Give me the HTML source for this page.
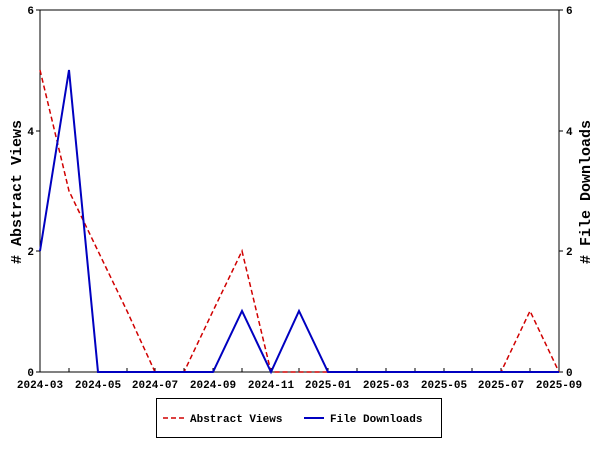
<!DOCTYPE html>
<html><head><style>body{margin:0;background:#fff}svg{display:block}text{font-family:"Liberation Mono",monospace;font-weight:bold;font-size:11px}</style></head><body>
<svg width="600" height="450" xmlns="http://www.w3.org/2000/svg">
<rect x="40" y="10" width="519" height="362" fill="none" stroke="#000" stroke-width="1"/>
<g stroke="#000">
<path d="M40 372v-4M69 372v-4M98 372v-4M127 372v-4M155 372v-4M184 372v-4M213 372v-4M242 372v-4M271 372v-4M299 372v-4M328 372v-4M357 372v-4M386 372v-4M415 372v-4M444 372v-4M472 372v-4M501 372v-4M530 372v-4M559 372v-4"/>
<path d="M36 372h4M36 251h4M36 131h4M36 10h4M559 372h4M559 251h4M559 131h4M559 10h4"/>
</g>
<g text-anchor="end"><text x="34" y="376">0</text><text x="34" y="255">2</text><text x="34" y="135">4</text><text x="34" y="14">6</text></g>
<g><text x="566" y="376">0</text><text x="566" y="255">2</text><text x="566" y="135">4</text><text x="566" y="14">6</text></g>
<g text-anchor="middle">
<text x="40" y="388">2024-03</text><text x="98" y="388">2024-05</text><text x="155" y="388">2024-07</text><text x="213" y="388">2024-09</text><text x="271" y="388">2024-11</text><text x="328" y="388">2025-01</text><text x="386" y="388">2025-03</text><text x="444" y="388">2025-05</text><text x="501" y="388">2025-07</text><text x="559" y="388">2025-09</text>
</g>
<text transform="translate(21,192) rotate(-90)" text-anchor="middle" style="font-size:15px">#&#160;Abstract&#160;Views</text>
<text transform="translate(590,192) rotate(-90)" text-anchor="middle" style="font-size:15px"># File Downloads</text>
<polyline fill="none" stroke="#d00000" stroke-width="1.5" stroke-dasharray="5,3" points="40,70 69,191 98,251 127,311 155,372 184,372 213,311 242,251 271,372 299,372 328,372 357,372 386,372 415,372 444,372 472,372 501,372 530,311 559,372"/>
<polyline fill="none" stroke="#0000c0" stroke-width="2" points="40,251 69,70 98,372 127,372 155,372 184,372 213,372 242,311 271,372 299,311 328,372 357,372 386,372 415,372 444,372 472,372 501,372 530,372 559,372"/>
<rect x="156.5" y="398.5" width="285" height="39" fill="#fff" stroke="#000"/>
<line x1="163" y1="418" x2="184" y2="418" stroke="#d00000" stroke-width="1.5" stroke-dasharray="5,3"/>
<text x="190" y="422">Abstract Views</text>
<line x1="304" y1="418" x2="324" y2="418" stroke="#0000c0" stroke-width="2"/>
<text x="330" y="422">File Downloads</text>
</svg>
</body></html>
